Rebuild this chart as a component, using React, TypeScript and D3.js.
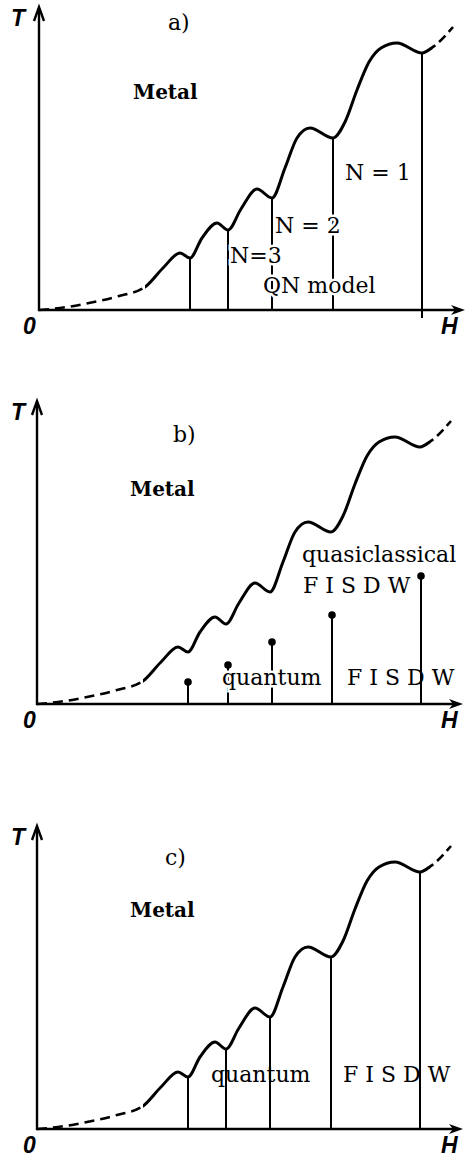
import React from "react";
import * as d3 from "d3";

const W = 465;
const HT = 1159;

const leadDashed: [number, number][] = [[0, 0], [21, 2], [50, 7], [80, 14], [106, 23]];
const curveSolid: [number, number][] = [
  [106, 23], [124, 42], [141, 57], [151, 52], [163, 72], [178, 87],
  [189, 80], [202, 101], [218, 121], [233, 112], [246, 142],
  [258, 172], [271, 182], [294, 172], [306, 188],
  [318, 220], [330, 248], [342, 262], [358, 267], [383, 257],
  [394, 263],
];
const tailDashed: [number, number][] = [[394, 263], [414, 283]];

// transition points (dips of the curve)
const dipH = [151, 189, 233, 294, 383];
const dipT = [52, 80, 112, 172, 257];

// panel b: lollipop heights
const dotH = [151, 191, 235, 295, 384];
const dotT = [22, 39, 62, 89, 128];

const hMax = 424;
const tMax = 298;

type Label = { text: string; h: number; t: number; bold?: boolean; halo?: boolean };

const panels = [
  {
    id: "a", x0: 39, y0: 310, kind: "lines",
    labels: [
      { text: "a)", h: 129, t: 280 },
      { text: "Metal", h: 94, t: 211, bold: true },
      { text: "N = 1", h: 306, t: 130 },
      { text: "N = 2", h: 236, t: 77, halo: true },
      { text: "N=3", h: 191, t: 47, halo: true },
      { text: "QN model", h: 224, t: 17, halo: true },
    ] as Label[],
  },
  {
    id: "b", x0: 37, y0: 704, kind: "dots",
    labels: [
      { text: "b)", h: 136, t: 262 },
      { text: "Metal", h: 93, t: 208, bold: true },
      { text: "quasiclassical", h: 265, t: 142 },
      { text: "F I S D W", h: 266, t: 111 },
      { text: "quantum", h: 185, t: 19, halo: true },
      { text: "F I S D W", h: 310, t: 19 },
    ] as Label[],
  },
  {
    id: "c", x0: 37, y0: 1129, kind: "lines",
    labels: [
      { text: "c)", h: 128, t: 264 },
      { text: "Metal", h: 93, t: 212, bold: true },
      { text: "quantum", h: 174, t: 47 },
      { text: "F I S D W", h: 306, t: 47 },
    ] as Label[],
  },
];

const serif = "'DejaVu Serif', serif";
const axisFont = "'Liberation Sans', sans-serif";

const allPts = [...leadDashed, ...curveSolid.slice(1), ...tailDashed.slice(1)];

function Panel({ p }: { p: (typeof panels)[number] }) {
  const x = d3.scaleLinear().domain([0, hMax]).range([p.x0, p.x0 + hMax]);
  const y = d3.scaleLinear().domain([0, tMax]).range([p.y0, p.y0 - tMax]);
  const line = d3
    .line<[number, number]>()
    .x((d) => x(d[0]))
    .y((d) => y(d[1]))
    .curve(d3.curveMonotoneX);
  const d = line(allPts) ?? "";

  const top = y(tMax);
  const right = x(hMax) + 2;
  const xs = x(curveSolid[0][0]);
  const xe = x(curveSolid[curveSolid.length - 1][0]);

  return (
    <g>
      <defs>
        <clipPath id={`lead-${p.id}`}><rect x={0} y={top - 30} width={xs} height={tMax + 60} /></clipPath>
        <clipPath id={`solid-${p.id}`}><rect x={xs} y={top - 30} width={xe - xs} height={tMax + 60} /></clipPath>
        <clipPath id={`tail-${p.id}`}><rect x={xe} y={top - 30} width={W - xe} height={tMax + 60} /></clipPath>
      </defs>

      {/* vertical transition lines / stems */}
      {p.kind === "lines" &&
        dipH.map((h, i) => (
          <line key={i} x1={x(h)} x2={x(h)} y1={y(dipT[i])} y2={y(0) + (i === 4 && p.id === "a" ? 8 : 0)}
            stroke="#000" strokeWidth={2} />
        ))}
      {p.kind === "dots" &&
        dotH.map((h, i) => (
          <g key={i}>
            <line x1={x(h)} x2={x(h)} y1={y(dotT[i])} y2={y(0)} stroke="#000" strokeWidth={2} />
            <circle cx={x(h)} cy={y(dotT[i])} r={3.8} fill="#000" />
          </g>
        ))}

      {/* labels */}
      {p.labels.map((l, i) => (
        <text key={i} x={x(l.h)} y={y(l.t)} fontFamily={serif} fontSize={l.bold ? 20 : 22}
          fontWeight={l.bold ? "bold" : "normal"} fill="#000"
          stroke={l.halo ? "#fff" : "none"} strokeWidth={l.halo ? 5 : 0}
          style={{ paintOrder: "stroke" }}>
          {l.text}
        </text>
      ))}

      {/* curve */}
      <path d={d} clipPath={`url(#lead-${p.id})`} fill="none" stroke="#000" strokeWidth={2.6} strokeDasharray="10 6" />
      <path d={d} clipPath={`url(#solid-${p.id})`} fill="none" stroke="#000" strokeWidth={3} strokeLinejoin="round" />
      <path d={d} clipPath={`url(#tail-${p.id})`} fill="none" stroke="#000" strokeWidth={2.6} strokeDasharray="9 5" />

      {/* axes */}
      <line x1={p.x0} x2={p.x0} y1={p.y0 + 1} y2={top - 4} stroke="#000" strokeWidth={2.4} />
      <path d={`M${p.x0 - 5},${top + 9} L${p.x0},${top - 5} L${p.x0 + 5},${top + 9}`} fill="none"
        stroke="#000" strokeWidth={2.4} />
      <line x1={p.x0 - 1} x2={right - 8} y1={p.y0} y2={p.y0} stroke="#000" strokeWidth={2.4} />
      <path d={`M${right - 14},${p.y0 - 5} L${right},${p.y0} L${right - 14},${p.y0 + 5} L${right - 10},${p.y0} Z`}
        fill="#000" />

      <text x={11} y={p.y0 - 284} fontFamily={axisFont} fontStyle="italic" fontWeight="bold" fontSize={23}>T</text>
      <text x={23} y={p.y0 + 24} fontFamily={axisFont} fontStyle="italic" fontWeight="bold" fontSize={23}>0</text>
      <text x={441} y={p.y0 + 24} fontFamily={axisFont} fontStyle="italic" fontWeight="bold" fontSize={23}>H</text>
    </g>
  );
}

export default function App() {
  return (
    <svg width={W} height={HT} viewBox={`0 0 ${W} ${HT}`}
      style={{ position: "absolute", left: 0, top: 0, background: "#fff" }}>
      <rect width={W} height={HT} fill="#fff" />
      {panels.map((p) => (
        <Panel key={p.id} p={p} />
      ))}
    </svg>
  );
}
